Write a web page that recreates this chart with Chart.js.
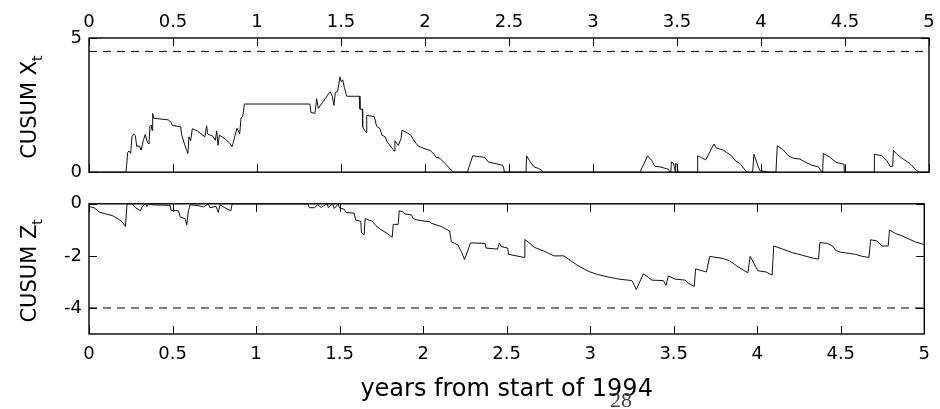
<!DOCTYPE html>
<html>
<head>
<meta charset="utf-8">
<script src="https://cdn.jsdelivr.net/npm/chart.js@4.4.1/dist/chart.umd.min.js"></script>
<style>
  html, body { margin: 0; padding: 0; background: #fff; }
  #wrap { position: relative; width: 940px; height: 409px; overflow: hidden; }
  canvas { position: absolute; left: 0; }
  #cTop { top: 0; width: 940px; height: 190px; }
  #cBot { top: 186px; width: 940px; height: 223px; }
  #page { position: absolute; left: 610px; top: 387px; font: 22px/26px "Liberation Serif", serif; color: #444; }
</style>
</head>
<body>
<div id="wrap">
  <canvas id="cTop" width="940" height="190"></canvas>
  <canvas id="cBot" width="940" height="223"></canvas>
  <div id="page">28</div>
</div>
<script>
// ticks
const xTicks = [0, 0.5, 1, 1.5, 2, 2.5, 3, 3.5, 4, 4.5, 5];
const topYTicks = [0, 5];
const botYTicks = [-4, -2, 0];

// control limits (dashed)
const xLimit = 4.5;
const zLimit = -4;

// CUSUM X_t (top panel)
const xYears = [0, 0.220, 0.224, 0.230, 0.238, 0.248, 0.256, 0.266, 0.276, 0.284, 0.300, 0.310, 0.323, 0.335, 0.347, 0.357,
  0.363, 0.371, 0.375, 0.379, 0.385, 0.472, 0.488, 0.496, 0.546, 0.552, 0.565, 0.579, 0.589, 0.595, 0.605, 0.615, 0.645,
  0.665, 0.690, 0.700, 0.706, 0.736, 0.752, 0.760, 0.768, 0.776, 0.810, 0.835, 0.851, 0.859, 0.871, 0.881, 0.897, 0.905,
  0.915, 0.925, 1.315, 1.321, 1.345, 1.355, 1.365, 1.435, 1.448, 1.458, 1.466, 1.480, 1.494, 1.502, 1.510, 1.520, 1.534,
  1.609, 1.613, 1.627, 1.629, 1.649, 1.653, 1.698, 1.712, 1.732, 1.744, 1.762, 1.776, 1.817, 1.821, 1.841, 1.857, 1.863,
  1.891, 1.915, 1.931, 1.946, 1.960, 2.000, 2.030, 2.054, 2.065, 2.089, 2.169, 2.252, 2.284, 2.357, 2.377, 2.462, 2.470,
  2.472, 2.601, 2.605, 2.621, 2.649, 2.675, 2.694, 2.700, 3.280, 3.325, 3.349, 3.369, 3.399, 3.448, 3.458, 3.464, 3.466,
  3.478, 3.486, 3.490, 3.492, 3.500, 3.506, 3.621, 3.623, 3.671, 3.720, 3.732, 3.776, 3.796, 3.825, 3.845, 3.875, 3.915,
  3.950, 3.958, 3.984, 3.994, 4.054, 4.089, 4.097, 4.129, 4.163, 4.193, 4.232, 4.262, 4.302, 4.341, 4.361, 4.367, 4.371,
  4.411, 4.440, 4.460, 4.480, 4.494, 4.496, 4.673, 4.675, 4.718, 4.748, 4.768, 4.784, 4.788, 4.808, 4.847, 4.887, 4.923,
  4.943, 5];
const xVals = [0, 0, 0.24, 0.73, 0.79, 0.70, 1.32, 1.42, 1.36, 0.96, 0.98, 0.82, 1.17, 1.41, 1.12, 1.05,
  1.71, 1.76, 1.56, 2.19, 2.01, 1.95, 1.86, 1.74, 1.69, 1.38, 1.12, 0.85, 0.70, 1.32, 1.17, 1.62, 1.54,
  1.44, 1.32, 1.73, 1.42, 1.35, 1.19, 1.54, 1.00, 1.38, 1.24, 1.10, 0.95, 1.10, 1.41, 1.64, 1.43, 2.02,
  2.07, 2.54, 2.54, 2.23, 2.19, 2.74, 2.38, 3.00, 2.83, 2.49, 2.97, 3.01, 3.55, 3.37, 3.44, 3.16, 2.83,
  2.83, 2.35, 2.35, 1.68, 1.48, 2.12, 2.07, 1.71, 1.62, 1.38, 1.32, 1.12, 0.79, 1.17, 1.00, 1.24, 1.56,
  1.48, 1.38, 1.21, 1.08, 0.97, 0.87, 0.81, 0.67, 0.56, 0.52, 0, 0, 0.61, 0.55, 0.38, 0.26, 0.12,
  0, 0, 0.61, 0.44, 0.20, 0.14, 0.08, 0, 0, 0.61, 0.44, 0.22, 0.20, 0.11, 0, 0, 0.38,
  0.34, 0.14, 0, 0.32, 0.30, 0, 0, 0.61, 0.46, 1.05, 0.91, 0.82, 0.73, 0.61, 0.44, 0.32, 0,
  0, 0.67, 0.20, 0.06, 0, 0, 0.99, 0.85, 0.61, 0.52, 0.49, 0.38, 0.26, 0.20, 0.02, 0, 0.70,
  0.56, 0.40, 0.34, 0.32, 0.30, 0, 0, 0.67, 0.61, 0.44, 0.22, 0.22, 0.82, 0.67, 0.49, 0.32, 0.08,
  0, 0];

// CUSUM Z_t (bottom panel)
const zYears = [0, 0.030, 0.060, 0.099, 0.139, 0.179, 0.198, 0.218, 0.228, 0.258, 0.278, 0.308, 0.317, 0.337, 0.347,
  0.357, 0.377, 0.486, 0.492, 0.536, 0.546, 0.575, 0.585, 0.595, 0.605, 0.655, 0.685, 0.714, 0.724, 0.760, 0.774,
  0.784, 0.813, 0.849, 0.857, 1.310, 1.319, 1.349, 1.369, 1.389, 1.425, 1.433, 1.458, 1.468, 1.492, 1.498, 1.528,
  1.538, 1.587, 1.597, 1.627, 1.631, 1.647, 1.653, 1.696, 1.716, 1.746, 1.786, 1.815, 1.821, 1.851, 1.857, 1.881,
  1.891, 1.931, 1.940, 1.970, 2.040, 2.050, 2.109, 2.159, 2.169, 2.208, 2.228, 2.248, 2.284, 2.371, 2.377, 2.446,
  2.456, 2.466, 2.506, 2.512, 2.605, 2.609, 2.635, 2.665, 2.724, 2.784, 2.843, 2.883, 2.923, 2.992, 3.042, 3.121,
  3.171, 3.250, 3.276, 3.319, 3.349, 3.369, 3.438, 3.454, 3.468, 3.508, 3.567, 3.587, 3.623, 3.631, 3.696, 3.716,
  3.796, 3.835, 3.885, 3.944, 3.958, 4.004, 4.054, 4.089, 4.099, 4.153, 4.212, 4.272, 4.341, 4.367, 4.375, 4.421,
  4.454, 4.470, 4.500, 4.589, 4.629, 4.669, 4.679, 4.718, 4.748, 4.784, 4.792, 4.827, 4.867, 4.907, 4.946, 5];
const zVals = [-0.10, -0.15, -0.31, -0.39, -0.45, -0.60, -0.69, -0.87, 0, 0, -0.15, -0.27, -0.12, 0, -0.10,
  0, -0.04, -0.06, -0.25, -0.27, -0.51, -0.57, -0.81, -0.27, -0.04, -0.07, -0.12, 0, -0.15, -0.10, -0.33,
  -0.04, -0.15, -0.27, 0, 0, -0.15, -0.15, -0.04, -0.14, 0, -0.15, 0, -0.18, 0, -0.15, -0.21,
  -0.33, -0.36, -0.63, -0.67, -1.11, -1.19, -0.57, -0.67, -0.83, -0.99, -1.14, -1.29, -0.79, -0.79, -0.27, -0.31,
  -0.39, -0.43, -0.57, -0.63, -0.69, -0.75, -0.87, -1.05, -1.46, -1.58, -1.82, -2.14, -1.50, -1.52, -1.70, -1.74,
  -1.50, -1.64, -1.70, -1.94, -2.06, -1.37, -1.50, -1.67, -1.82, -2.00, -2.00, -2.18, -2.36, -2.60, -2.71, -2.83,
  -2.89, -2.95, -3.29, -2.69, -2.83, -2.93, -2.95, -3.13, -2.77, -2.89, -2.93, -3.05, -3.17, -2.50, -2.62, -2.02,
  -2.10, -2.19, -2.42, -2.65, -2.02, -2.57, -2.62, -2.74, -1.62, -1.74, -1.88, -1.98, -2.10, -2.12, -1.49, -1.52,
  -1.64, -1.79, -1.86, -1.94, -2.02, -2.06, -1.38, -1.43, -1.62, -1.62, -1.00, -1.14, -1.23, -1.35, -1.46, -1.57];

const FONT = '"DejaVu Sans", sans-serif';
const TICK = 8;

function pts(xs, ys) {
  return xs.map((x, i) => ({ x: x, y: ys[i] }));
}

// box round the plot and MATLAB style ticks pointing inwards
const frameTicks = {
  id: 'frameTicks',
  afterDraw(chart) {
    const { ctx, chartArea: a, scales } = chart;
    ctx.save();
    ctx.strokeStyle = '#000';
    ctx.lineWidth = 1;
    ctx.beginPath();
    scales.x.ticks.forEach(t => {
      const px = Math.round(scales.x.getPixelForValue(t.value)) + 0.5;
      ctx.moveTo(px, a.top); ctx.lineTo(px, a.top + TICK);
      ctx.moveTo(px, a.bottom); ctx.lineTo(px, a.bottom - TICK);
    });
    scales.y.ticks.forEach(t => {
      const py = Math.round(scales.y.getPixelForValue(t.value)) + 0.5;
      ctx.moveTo(a.left, py); ctx.lineTo(a.left + TICK, py);
      ctx.moveTo(a.right, py); ctx.lineTo(a.right - TICK, py);
    });
    ctx.stroke();
    ctx.lineWidth = 1.4;
    ctx.strokeRect(a.left, a.top, a.right - a.left, a.bottom - a.top);
    ctx.restore();
  }
};

// rotated y title with subscript
const yTitle = {
  id: 'yTitle',
  afterDraw(chart, args, opts) {
    const { ctx, chartArea: a } = chart;
    ctx.save();
    ctx.fillStyle = '#000';
    ctx.font = '21px ' + FONT;
    const w = ctx.measureText(opts.main).width;
    ctx.font = '14px ' + FONT;
    const ws = ctx.measureText(opts.sub).width;
    const cy = (a.top + a.bottom) / 2 + 2;
    ctx.translate(opts.x, cy + (w + ws) / 2);
    ctx.rotate(-Math.PI / 2);
    ctx.textBaseline = 'alphabetic';
    ctx.textAlign = 'left';
    ctx.font = '21px ' + FONT;
    ctx.fillText(opts.main, 0, 0);
    ctx.font = '14px ' + FONT;
    ctx.fillText(opts.sub, w, 6);
    ctx.restore();
  }
};

const plainNum = v => String(v);

function makeChart(id, series, limit, yMin, yMax, yTicks, xPos, title, pad, xHeight, xPad) {
  return new Chart(document.getElementById(id), {
    type: 'line',
    data: {
      datasets: [
        { data: series, borderColor: '#111', borderWidth: 1, pointRadius: 0, tension: 0 },
        { data: [{ x: 0, y: limit }, { x: 5, y: limit }], borderColor: '#000', borderWidth: 1,
          borderDash: [8, 6], pointRadius: 0 }
      ]
    },
    options: {
      responsive: false,
      animation: false,
      events: [],
      layout: { autoPadding: false, padding: pad },
      plugins: {
        legend: { display: false },
        tooltip: { enabled: false },
        yTitle: title
      },
      scales: {
        x: {
          type: 'linear', position: xPos, min: 0, max: 5,
          afterBuildTicks: s => { s.ticks = xTicks.map(v => ({ value: v })); },
          afterFit: s => { s.height = xHeight; },
          grid: { display: false, drawTicks: false },
          border: { display: false },
          ticks: { color: '#000', font: { family: FONT, size: 18 }, padding: xPad, maxRotation: 0,
                   autoSkip: false, callback: plainNum },
          title: xPos === 'bottom'
            ? { display: true, text: 'years from start of 1994', color: '#000',
                font: { family: FONT, size: 24 }, padding: { top: 0, bottom: 5 } }
            : { display: false }
        },
        y: {
          type: 'linear', min: yMin, max: yMax,
          afterBuildTicks: s => { s.ticks = yTicks.map(v => ({ value: v })); },
          afterFit: s => { s.width = 89; },
          grid: { display: false, drawTicks: false },
          border: { display: false },
          ticks: { color: '#000', font: { family: FONT, size: 18 }, padding: 7, callback: plainNum }
        }
      }
    },
    plugins: [frameTicks, yTitle]
  });
}

makeChart('cTop', pts(xYears, xVals), xLimit, 0, 5, topYTicks, 'top',
  { main: 'CUSUM X', sub: 't', x: 36 }, { left: 0, right: 11, top: 0, bottom: 11 }, 38, 5);
makeChart('cBot', pts(zYears, zVals), zLimit, -5, 0, botYTicks, 'bottom',
  { main: 'CUSUM Z', sub: 't', x: 36 }, { left: 0, right: 11, top: 8, bottom: 0 }, 75, 10);
</script>
</body>
</html>
